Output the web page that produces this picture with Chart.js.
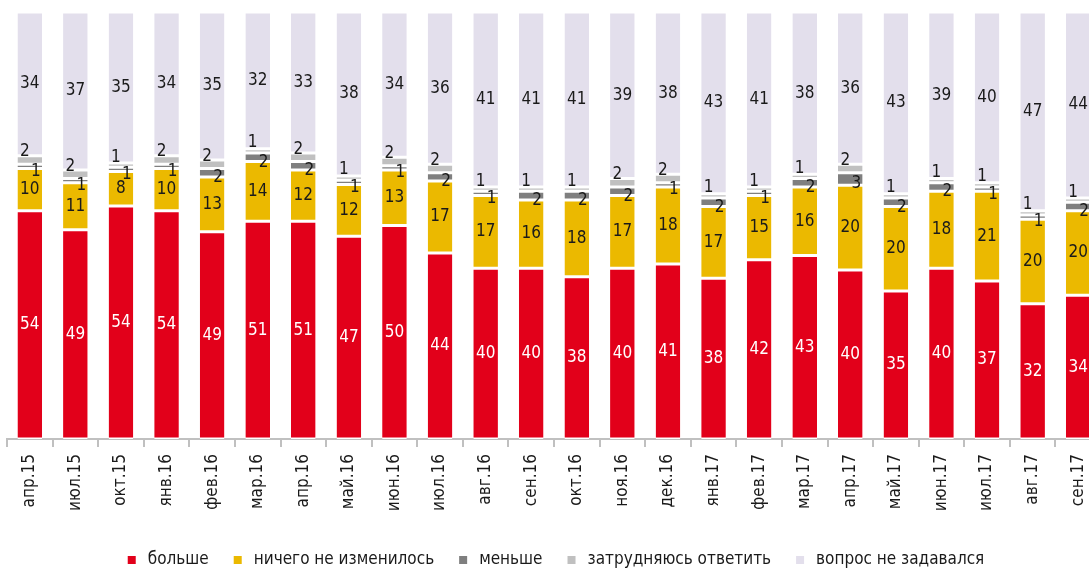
<!DOCTYPE html>
<html lang="ru">
<head>
<meta charset="utf-8">
<script src="https://cdn.jsdelivr.net/npm/chart.js@4"></script>
<style>
  html, body { margin: 0; padding: 0; background: #fff; overflow: hidden; }
  body { width: 1089px; height: 570px; }
  #wrap { position: relative; width: 1110px; height: 570px; }
</style>
</head>
<body>
<div id="wrap"><canvas id="chartCanvas"></canvas></div>
<script>
const months = ["апр.15", "июл.15", "окт.15", "янв.16", "фев.16", "мар.16", "апр.16", "май.16",
  "июн.16", "июл.16", "авг.16", "сен.16", "окт.16", "ноя.16", "дек.16", "янв.17",
  "фев.17", "мар.17", "апр.17", "май.17", "июн.17", "июл.17", "авг.17", "сен.17"];

const more      = [54, 49, 54, 54, 49, 51, 51, 47, 50, 44, 40, 40, 38, 40, 41, 38, 42, 43, 40, 35, 40, 37, 32, 34];
const unchanged = [10, 11, 8, 10, 13, 14, 12, 12, 13, 17, 17, 16, 18, 17, 18, 17, 15, 16, 20, 20, 18, 21, 20, 20];
const less      = [1, 1, 1, 1, 2, 2, 2, 1, 1, 2, 1, 2, 2, 2, 1, 2, 1, 2, 3, 2, 2, 1, 1, 2];
const unsure    = [2, 2, 1, 2, 2, 1, 2, 1, 2, 2, 1, 1, 1, 2, 2, 1, 1, 1, 2, 1, 1, 1, 1, 1];
const notAsked  = [34, 37, 35, 34, 35, 32, 33, 38, 34, 36, 41, 41, 41, 39, 38, 43, 41, 38, 36, 43, 39, 40, 47, 44];

const FONT = '"Liberation Sans Narrow", "DejaVu Sans Condensed", sans-serif';
const TEXT = "#1a1a1a";

// каждый столбец показывается как 100%
const totals = months.map((_, i) => more[i] + unchanged[i] + less[i] + unsure[i] + notAsked[i]);
const share = arr => arr.map((v, i) => v / totals[i] * 100);

const series = [
  { label: "больше", raw: more, color: "#e2001a", text: "#ffffff", dx: 0, dy: 0 },
  { label: "ничего не изменилось", raw: unchanged, color: "#ebb900", text: TEXT, dx: 0, dy: 0 },
  { label: "меньше", raw: less, color: "#7f7f7f", text: TEXT, dx: 6, dy: 5 },
  { label: "затрудняюсь ответить", raw: unsure, color: "#c0c0c0", text: TEXT, dx: -5, dy: -8 },
  { label: "вопрос не задавался", raw: notAsked, color: "#e3dfec", text: TEXT, dx: 0, dy: 0 }
];

// подписи значений внутри сегментов
const valueLabels = {
  id: "valueLabels",
  afterDatasetsDraw(chart) {
    const ctx = chart.ctx;
    ctx.save();
    ctx.font = "17px " + FONT;
    ctx.textAlign = "center";
    ctx.textBaseline = "middle";
    chart.data.datasets.forEach((ds, di) => {
      const s = series[di];
      chart.getDatasetMeta(di).data.forEach((bar, i) => {
        const cy = (bar.y + bar.base) / 2;
        ctx.fillStyle = s.text;
        ctx.fillText(String(s.raw[i]), bar.x + s.dx, cy + s.dy);
      });
    });
    ctx.restore();
  }
};

// легенда одной строкой внизу
const bottomLegend = {
  id: "bottomLegend",
  afterDraw(chart) {
    const ctx = chart.ctx;
    const box = 8, gap = 12, spacing = 25, y = 560, centerX = 556;
    ctx.save();
    ctx.font = "17px " + FONT;
    ctx.textBaseline = "middle";
    const widths = series.map(s => box + gap + ctx.measureText(s.label).width);
    const total = widths.reduce((a, b) => a + b, 0) + spacing * (series.length - 1);
    let x = centerX - total / 2;
    series.forEach((s, i) => {
      ctx.fillStyle = s.color;
      ctx.fillRect(x, y - box / 2, box, box);
      ctx.fillStyle = TEXT;
      ctx.fillText(s.label, x + box + gap, y);
      x += widths[i] + spacing;
    });
    ctx.restore();
  }
};

new Chart(document.getElementById("chartCanvas"), {
  type: "bar",
  data: {
    labels: months,
    datasets: series.map(s => ({
      label: s.label,
      data: share(s.raw),
      backgroundColor: s.color,
      borderColor: "#ffffff",
      borderWidth: { top: 1.5, bottom: 1.5, left: 0, right: 0 },
      borderSkipped: false,
      barPercentage: 0.54,
      categoryPercentage: 1
    }))
  },
  options: {
    responsive: true,
    maintainAspectRatio: false,
    animation: false,
    layout: { padding: { left: 7, right: 9, top: 12, bottom: 51 } },
    plugins: {
      tooltip: { enabled: false },
      legend: { display: false }
    },
    scales: {
      x: {
        stacked: true,
        offset: true,
        grid: {
          display: true,
          drawOnChartArea: false,
          drawTicks: true,
          tickLength: 8,
          color: "#c0c0c0",
          lineWidth: 2,
          offset: true
        },
        border: { display: true, color: "#c0c0c0", width: 2 },
        ticks: {
          minRotation: 90,
          maxRotation: 90,
          autoSkip: false,
          padding: 7,
          color: TEXT,
          font: { family: FONT, size: 17 }
        },
        afterFit: scale => { scale.height = 80; }
      },
      y: {
        stacked: true,
        display: false,
        min: 0,
        max: 100
      }
    }
  },
  plugins: [valueLabels, bottomLegend]
});
</script>
</body>
</html>
